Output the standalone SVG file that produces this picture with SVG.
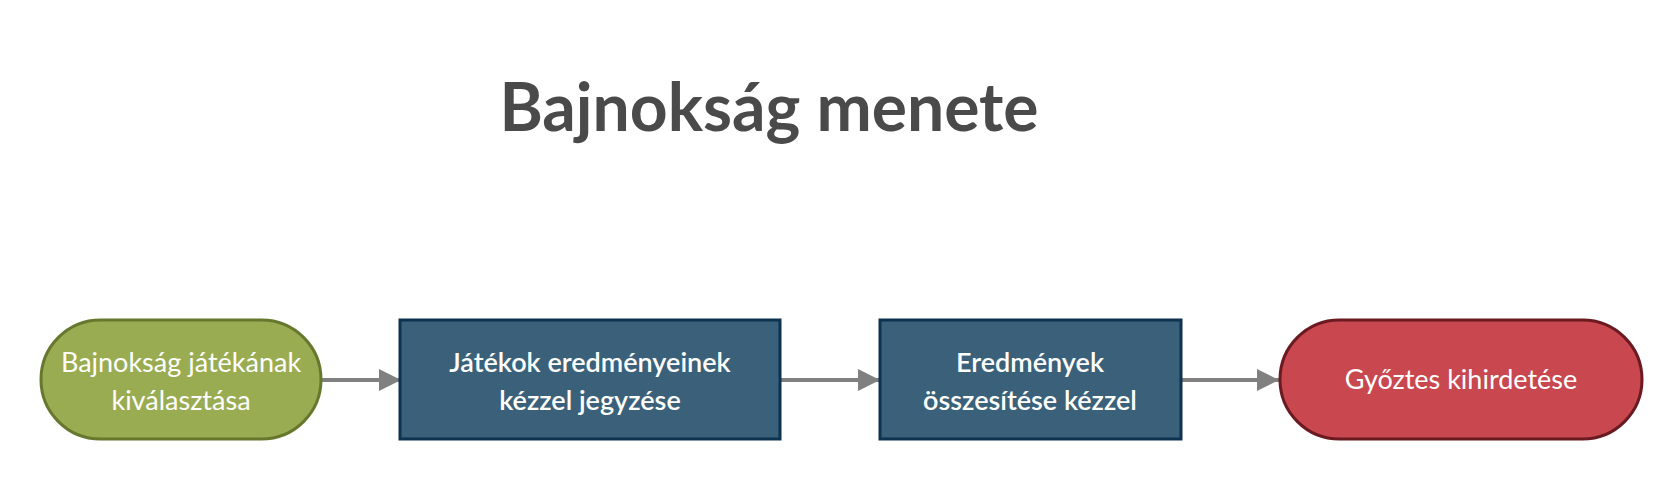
<svg xmlns="http://www.w3.org/2000/svg" width="1680" height="480" viewBox="0 0 1680 480">
<style>
.title{font-family:Lato,"Open Sans","Liberation Sans",sans-serif;font-weight:bold;font-size:66px;fill:#4a4a4a;text-anchor:middle}
.lbl{font-family:Lato,"Open Sans","Liberation Sans",sans-serif;font-size:27px;fill:#ffffff;text-anchor:middle}
.b{font-weight:600}
.conn{stroke:#808080;stroke-width:4;fill:none}
</style>
<defs>
<marker id="ah" viewBox="0 0 10 10" refX="10" refY="5" markerWidth="5.5" markerHeight="6.5" markerUnits="strokeWidth" orient="auto">
<path d="M0,0 L10,5 L0,10 Z" fill="#808080"/>
</marker>
</defs>
<rect width="1680" height="480" fill="#ffffff"/>
<text class="title" x="769" y="131">Bajnokság menete</text>
<g id="connectors">
<line class="conn" x1="321" y1="380" x2="401" y2="380" marker-end="url(#ah)"/>
<line class="conn" x1="780" y1="380" x2="880" y2="380" marker-end="url(#ah)"/>
<line class="conn" x1="1181" y1="380" x2="1279" y2="380" marker-end="url(#ah)"/>
</g>
<g id="n1">
<rect x="41" y="320" width="280" height="119" rx="59.5" fill="#9aac52" stroke="#66782e" stroke-width="3"/>
<text class="lbl" x="181" y="372">Bajnokság játékának</text>
<text class="lbl" x="181" y="410">kiválasztása</text>
</g>
<g id="n2">
<rect x="400" y="320" width="380" height="119" fill="#3a6179" stroke="#0e3350" stroke-width="3"/>
<text class="lbl b" x="590" y="372">Játékok eredményeinek</text>
<text class="lbl b" x="590" y="410">kézzel jegyzése</text>
</g>
<g id="n3">
<rect x="880" y="320" width="301" height="119" fill="#3a6179" stroke="#0e3350" stroke-width="3"/>
<text class="lbl b" x="1030" y="372">Eredmények</text>
<text class="lbl b" x="1030" y="410">összesítése kézzel</text>
</g>
<g id="n4">
<rect x="1280" y="320" width="362" height="119" rx="59.5" fill="#c9474f" stroke="#6b1a22" stroke-width="3"/>
<text class="lbl" x="1461" y="389">Győztes kihirdetése</text>
</g>
</svg>
